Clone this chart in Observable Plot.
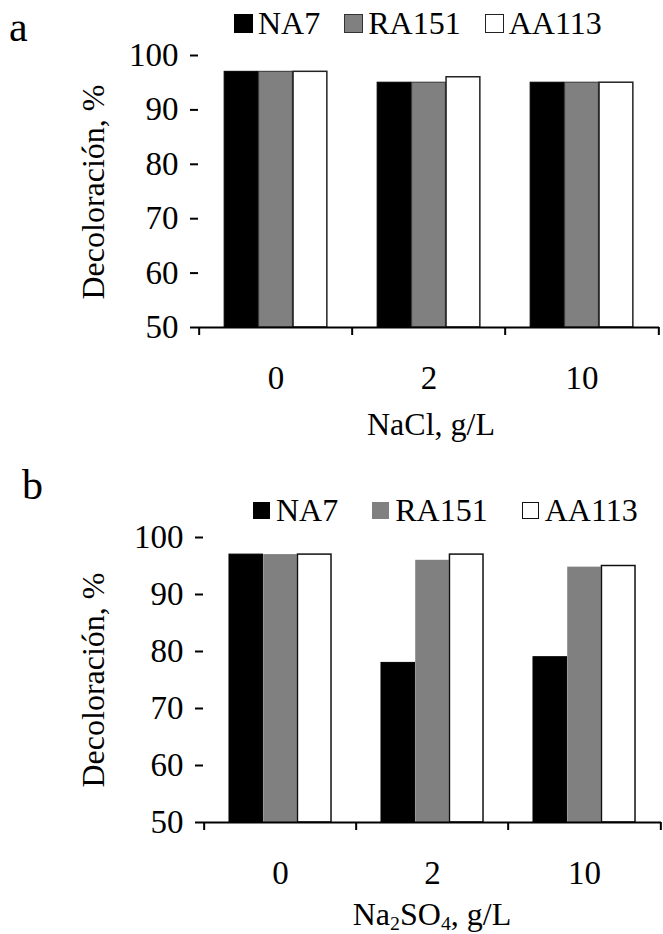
<!DOCTYPE html>
<html><head><meta charset="utf-8">
<script src="https://cdn.jsdelivr.net/npm/d3@7"></script>
<script src="https://cdn.jsdelivr.net/npm/@observablehq/plot@0.6"></script>
<style>
body{margin:0;background:#fff;font-family:'Liberation Serif','Times New Roman',Times,'DejaVu Serif',serif;}
#page{position:relative;width:663px;height:934px;overflow:hidden;background:#fff;}
.abs{position:absolute;white-space:nowrap;color:#000;line-height:1;font-family:'Liberation Serif','Times New Roman',Times,'DejaVu Serif',serif;}
.letter{font-size:42px;}
.legend{font-size:32px;display:flex;align-items:center;transform:translateY(-50%);}
.item{display:flex;align-items:center;}
.sw{display:inline-block;box-sizing:border-box;}
.ytitle{font-size:32px;transform:translate(-50%,-50%) rotate(-90deg);}
.xtitle{font-size:32px;transform:translate(-50%,-50%);}
sub{font-size:0.62em;vertical-align:-0.25em;line-height:0;}
svg{position:absolute;left:0;overflow:visible;}
svg text{font-family:'Liberation Serif','Times New Roman',Times,'DejaVu Serif',serif;}
</style></head>
<body><div id="page"></div>
<script>
// ---- data ----
const series = ["NA7", "RA151", "AA113"];
const naclLevels = ["0", "2", "10"];
const naclNA7 = [97, 95, 95];
const naclRA151 = [97, 95, 95];
const naclAA113 = [97, 96, 95];
const sulfLevels = ["0", "2", "10"];
const sulfNA7 = [97, 78, 79];
const sulfRA151 = [97, 96, 94.8];
const sulfAA113 = [97, 97, 95];
const yTicks = [50, 60, 70, 80, 90, 100];

const page = document.getElementById("page");
const W = 663;
const FONT = "'Liberation Serif','Times New Roman',Times,'DejaVu Serif',serif";

function rowsOf(levels, vals) {
  const rows = [];
  series.forEach((s, i) => levels.forEach((c, j) => rows.push({series: s, cat: c, value: vals[i][j]})));
  return rows;
}

function panel({levels, vals, top, height, marginLeft, marginRight, marginTop, marginBottom, fills}) {
  const rows = rowsOf(levels, vals);
  const bw = (W - marginLeft - marginRight) / levels.length;
  const inner = d3.scaleBand().domain(series).range([0, bw]).paddingInner(0).paddingOuter(0.73);
  const bars = series.map((s) => Plot.barY(rows.filter(r => r.series === s), {
    x: "cat", y1: 50, y2: "value",
    fill: fills[s].fill, stroke: fills[s].stroke, strokeWidth: fills[s].sw,
    insetLeft: inner(s), insetRight: bw - inner(s) - inner.bandwidth()
  }));
  const chart = Plot.plot({
    width: W, height, marginLeft, marginRight, marginTop, marginBottom,
    style: {fontFamily: FONT, fontSize: "33px", color: "#000", background: "transparent", overflow: "visible"},
    x: {type: "band", domain: levels, padding: 0, label: null},
    y: {domain: [50, 100], label: null},
    marks: [
      ...bars,
      Plot.ruleY([50], {strokeWidth: 2}),
      Plot.axisY({ticks: yTicks, tickSize: 8, tickPadding: 12, line: true, strokeWidth: 2, fontSize: 33, label: null}),
      Plot.axisX({tickSize: 0, tickPadding: 38, fontSize: 33, label: null}),
      Plot.axisX({tickSize: 8, tickFormat: () => "", dx: -bw / 2, strokeWidth: 2, label: null}),
      Plot.axisX({ticks: [levels[levels.length - 1]], tickSize: 8, tickFormat: () => "", dx: bw / 2, strokeWidth: 2, label: null})
    ]
  });
  chart.style.top = top + "px";
  page.appendChild(chart);
}

function addText(cls, html, x, y) {
  const d = document.createElement("div");
  d.className = "abs " + cls;
  d.innerHTML = html;
  d.style.left = x + "px";
  d.style.top = y + "px";
  page.appendChild(d);
  return d;
}

function legend(x, y, size, borders, gapText, gapItem) {
  const d = document.createElement("div");
  d.className = "abs legend";
  d.style.left = x + "px"; d.style.top = y + "px";
  d.style.gap = gapItem + "px";
  series.forEach(s => {
    const it = document.createElement("span");
    it.className = "item";
    it.style.gap = gapText + "px";
    const sw = document.createElement("span");
    sw.className = "sw";
    sw.style.width = size + "px"; sw.style.height = size + "px";
    sw.style.background = borders[s].fill;
    sw.style.border = borders[s].border;
    const t = document.createElement("span");
    t.textContent = s;
    it.appendChild(sw); it.appendChild(t);
    d.appendChild(it);
  });
  page.appendChild(d);
}

// Panel a
panel({
  levels: naclLevels, vals: [naclNA7, naclRA151, naclAA113],
  top: 40, height: 360, marginLeft: 198, marginRight: 4, marginTop: 15, marginBottom: 73,
  fills: {
    NA7: {fill: "#000", stroke: "#000", sw: 1},
    RA151: {fill: "#808080", stroke: "#333", sw: 1},
    AA113: {fill: "#fff", stroke: "#222", sw: 1.5}
  }
});
addText("letter", "a", 9, 6);
legend(234, 23, 19, {
  NA7: {fill: "#000", border: "1px solid #000"},
  RA151: {fill: "#808080", border: "1.5px solid #333"},
  AA113: {fill: "#fff", border: "1.5px solid #222"}
}, 5, 24);
addText("ytitle", "Decoloración, %", 93, 192);
addText("xtitle", "NaCl, g/L", 431, 424);

// Panel b
panel({
  levels: sulfLevels, vals: [sulfNA7, sulfRA151, sulfAA113],
  top: 520, height: 380, marginLeft: 203, marginRight: 2, marginTop: 17, marginBottom: 78,
  fills: {
    NA7: {fill: "#000", stroke: "#000", sw: 1},
    RA151: {fill: "#808080", stroke: "none", sw: 0},
    AA113: {fill: "#fff", stroke: "#111", sw: 1.5}
  }
});
addText("letter", "b", 22, 464);
legend(253, 510, 17, {
  NA7: {fill: "#000", border: "none"},
  RA151: {fill: "#808080", border: "none"},
  AA113: {fill: "#fff", border: "1.5px solid #111"}
}, 6, 34);
addText("ytitle", "Decoloración, %", 93, 680);
addText("xtitle", "Na<sub>2</sub>SO<sub>4</sub>, g/L", 432, 914);
</script>
</body></html>
